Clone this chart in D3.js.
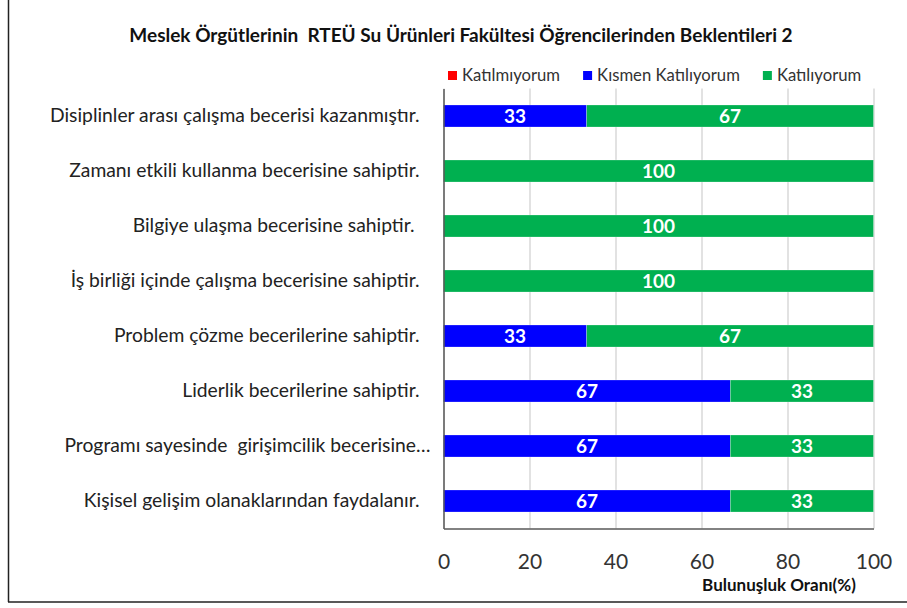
<!DOCTYPE html>
<html>
<head>
<meta charset="utf-8">
<script src="https://cdn.jsdelivr.net/npm/d3@7"></script>
<style>
  body { margin: 0; background: #fff; }
  text { font-family: Lato, "Open Sans", sans-serif; white-space: pre; }
</style>
</head>
<body>
<svg id="chart" width="907" height="608"></svg>
<script>
const categories = [
  "Disiplinler arası çalışma becerisi kazanmıştır.",
  "Zamanı etkili kullanma becerisine sahiptir.",
  "Bilgiye ulaşma becerisine sahiptir. ",
  "İş birliği içinde çalışma becerisine sahiptir.",
  "Problem çözme becerilerine sahiptir.",
  "Liderlik becerilerine sahiptir.",
  "Programı sayesinde  girişimcilik becerisine…",
  "Kişisel gelişim olanaklarından faydalanır."
];
const katilmiyorum = [0, 0, 0, 0, 0, 0, 0, 0];
const kismenKatiliyorum = [33.3, 0, 0, 0, 33.3, 66.7, 66.7, 66.7];
const katiliyorum = [66.7, 100, 100, 100, 66.7, 33.3, 33.3, 33.3];
const seriesNames = ["Katılmıyorum", "Kısmen Katılıyorum", "Katılıyorum"];
const seriesColors = ["#FF0000", "#0000FF", "#00B050"];
const xTicks = [0, 20, 40, 60, 80, 100];
const chartTitle = "Meslek Örgütlerinin  RTEÜ Su Ürünleri Fakültesi Öğrencilerinden Beklentileri 2";
const xTitle = "Bulunuşluk Oranı(%)";

const svg = d3.select("#chart");
const plotL = 443.5, plotR = 873.5, plotT = 88.5, plotB = 528.5;

// rows for the stack
const rows = categories.map((c, i) => ({
  cat: c,
  [seriesNames[0]]: katilmiyorum[i],
  [seriesNames[1]]: kismenKatiliyorum[i],
  [seriesNames[2]]: katiliyorum[i]
}));
const stacked = d3.stack().keys(seriesNames)(rows);

const x = d3.scaleLinear().domain([0, 100]).range([plotL, plotR]);
const y = d3.scaleBand().domain(categories).range([plotT, plotB])
  .paddingInner(0.6).paddingOuter(0.3);
const color = d3.scaleOrdinal().domain(seriesNames).range(seriesColors);

// outer frame
svg.append("line").attr("x1", 8.5).attr("x2", 8.5).attr("y1", 0).attr("y2", 602)
  .attr("stroke", "#222").attr("stroke-width", 1.5);
svg.append("line").attr("x1", 8).attr("x2", 907).attr("y1", 602).attr("y2", 602)
  .attr("stroke", "#222").attr("stroke-width", 1.5);

// gridlines
const grid = svg.append("g").attr("transform", `translate(0,${plotB})`)
  .call(d3.axisBottom(x).tickValues(xTicks).tickSize(-(plotB - plotT)).tickFormat(""));
grid.select(".domain").remove();
grid.selectAll(".tick line").attr("stroke", "#d9d9d9").attr("stroke-width", 1.5);

// bars
const layer = svg.append("g").selectAll("g").data(stacked).enter().append("g")
  .attr("fill", d => color(d.key));
layer.selectAll("rect").data(d => d.map(v => ({v: v, key: d.key})))
  .enter().append("rect")
    .attr("x", d => x(d.v[0]))
    .attr("y", d => y(d.v.data.cat))
    .attr("width", d => x(d.v[1]) - x(d.v[0]))
    .attr("height", y.bandwidth())
    .attr("stroke", "#fff")
    .attr("stroke-opacity", 0.4)
    .attr("stroke-width", 0.6);

// value labels
layer.selectAll("text").data(d => d.map(v => ({v: v, key: d.key})).filter(d => d.v[1] - d.v[0] > 0))
  .enter().append("text")
    .attr("x", d => (x(d.v[0]) + x(d.v[1])) / 2)
    .attr("y", d => y(d.v.data.cat) + y.bandwidth() / 2)
    .attr("dy", "0.36em")
    .attr("text-anchor", "middle")
    .attr("fill", "#fff")
    .style("font-size", "19px")
    .style("font-weight", "bold")
    .text(d => d3.format(".0f")(d.v[1] - d.v[0]));

// x axis
const xAxis = svg.append("g").attr("transform", `translate(0,${plotB})`)
  .call(d3.axisBottom(x).tickValues(xTicks).tickSize(0).tickSizeOuter(0).tickPadding(26));
xAxis.select(".domain").attr("stroke", "#595959").attr("stroke-width", 1.5);
xAxis.selectAll(".tick text").style("font-size", "21px").attr("fill", "#333")
  .style("font-family", "Lato, sans-serif");

// y axis
const yAxis = svg.append("g").attr("transform", `translate(${plotL},0)`)
  .call(d3.axisLeft(y).tickSize(0).tickSizeOuter(0).tickPadding(24));
yAxis.select(".domain").attr("stroke", "#595959").attr("stroke-width", 1.5);
yAxis.selectAll(".tick text").style("font-size", "19.3px").attr("fill", "#222")
  .style("font-family", "Lato, sans-serif")
  .attr("dx", d => d.endsWith("…") ? 11 : 0);  // truncated label sits a bit further right

// title
svg.append("text").attr("x", 461).attr("y", 42).attr("text-anchor", "middle")
  .style("font-size", "19px").style("font-weight", "bold").attr("fill", "#111")
  .text(chartTitle);

// axis title
svg.append("text").attr("x", 779).attr("y", 591).attr("text-anchor", "middle")
  .style("font-size", "17px").style("font-weight", "bold").attr("fill", "#111")
  .text(xTitle);

// legend
const legend = svg.append("g");
let lx = 448;
seriesNames.forEach((name, i) => {
  legend.append("rect").attr("x", lx).attr("y", 71).attr("width", 9).attr("height", 9)
    .attr("fill", seriesColors[i]);
  const t = legend.append("text").attr("x", lx + 14).attr("y", 75).attr("dy", "0.36em")
    .style("font-size", "16.7px").attr("fill", "#333").text(name);
  lx += 14 + t.node().getComputedTextLength() + 23;
});
</script>
</body>
</html>
